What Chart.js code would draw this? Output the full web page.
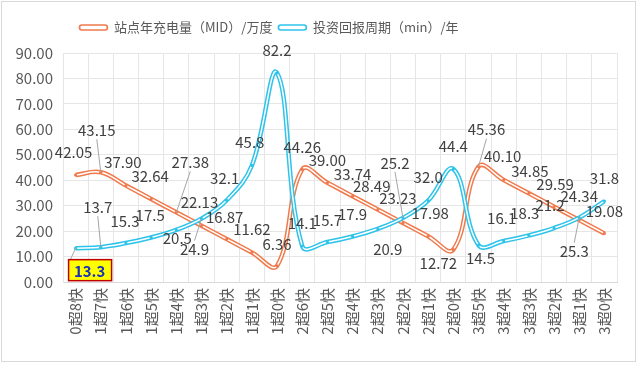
<!DOCTYPE html>
<html>
<head>
<meta charset="utf-8">
<script src="https://cdn.jsdelivr.net/npm/chart.js@4.4.1/dist/chart.umd.min.js"></script>
<style>
  html, body { margin: 0; padding: 0; background: #fff; }
  #wrap { width: 637px; height: 372px; }
</style>
</head>
<body>
<div id="wrap"><canvas id="chart" width="637" height="372"></canvas></div>
<script>
const categories = ['0超8快', '1超7快', '1超6快', '1超5快', '1超4快', '1超3快', '1超2快', '1超1快', '1超0快',
    '2超6快', '2超5快', '2超4快', '2超3快', '2超2快', '2超1快', '2超0快',
    '3超5快', '3超4快', '3超3快', '3超2快', '3超1快', '3超0快'];

const chargeValues = [42.05, 43.15, 37.90, 32.64, 27.38, 22.13, 16.87, 11.62, 6.36,
    44.26, 39.00, 33.74, 28.49, 23.23, 17.98, 12.72,
    45.36, 40.10, 34.85, 29.59, 24.34, 19.08];

const paybackValues = [13.3, 13.7, 15.3, 17.5, 20.5, 24.9, 32.1, 45.8, 82.2,
    14.1, 15.7, 17.9, 20.9, 25.2, 32.0, 44.4,
    14.5, 16.1, 18.3, 21.2, 25.3, 31.8];

const seriesNames = ['站点年充电量（MID）/万度', '投资回报周期（min）/年'];

// label offsets in px relative to the point (hand placed like in the excel original)
const chargeLabelOffsets = [[-2, -23], [-4, -42], [-3, -23], [-1, -23], [14, -50], [-2, -23], [-2, -22], [0, -23], [0, -22],
    [0, -22], [0, -22], [0, -22], [-6, -23], [-5, -25], [2, -23], [-15, 14],
    [8, -37], [-1, -24], [1, -22], [1, -22], [0, -24], [0, -22]];
const paybackLabelOffsets = [[14, 22], [-3, -40], [-1, -22], [-1, -22], [1, 8], [-7, 31], [-2, -22], [-2, -23], [0, -23],
    [0, -23], [0, -22], [0, -22], [10, 20], [-8, -55], [0, -23], [0, -23],
    [2, 13], [-2, -23], [-4, -22], [-4, -23], [-5, 34], [0, -23]];
const chargeLeaders = [1, 4, 16];
const paybackLeaders = [0, 1, 5, 13, 20];

const ORANGE = '#f07a4c';
const BLUE = '#2ec3ea';
const FONT = '"Microsoft YaHei", "Noto Sans CJK SC", "Noto Sans", sans-serif';

const framePlugin = {
    id: 'frame',
    beforeInit(chart) {
        // leave more room under the legend
        const origFit = chart.legend.fit;
        chart.legend.fit = function () {
            origFit.call(this);
            this.height += 9;
        };
    },
    afterLayout(chart) {
        // the excel legend sits a bit left of centre
        chart.legend.left -= 42;
        chart.legend.right -= 42;
    },
    beforeDraw(chart) {
        const ctx = chart.ctx;
        ctx.save();
        ctx.fillStyle = '#fff';
        ctx.fillRect(0, 0, chart.width, chart.height);
        ctx.strokeStyle = '#d9d9d9';
        ctx.lineWidth = 1;
        ctx.strokeRect(1.5, 1.5, 634, 360);
        ctx.restore();
    }
};

const labelPlugin = {
    id: 'pointLabels',
    afterDatasetsDraw(chart) {
        const ctx = chart.ctx;
        ctx.save();
        ctx.font = '15px ' + FONT;
        ctx.textAlign = 'center';
        ctx.textBaseline = 'middle';

        const drawSet = (dsIndex, values, offsets, leaders, decimals) => {
            const meta = chart.getDatasetMeta(dsIndex);
            meta.data.forEach((pt, i) => {
                const lx = pt.x + offsets[i][0];
                const ly = pt.y + offsets[i][1];
                const text = values[i].toFixed(decimals);
                const boxed = (dsIndex === 1 && i === 0);
                if (leaders.includes(i)) {
                    ctx.strokeStyle = '#a6a6a6';
                    ctx.lineWidth = 1;
                    ctx.beginPath();
                    const sy = offsets[i][1] < 0 ? ly + 9 : ly - (boxed ? 11 : 9);
                    const sx = boxed ? lx - 19 : lx;
                    ctx.moveTo(sx, sy);
                    ctx.lineTo(pt.x, pt.y);
                    ctx.stroke();
                }
                if (boxed) {
                    ctx.fillStyle = '#ffff00';
                    ctx.fillRect(lx - 21, ly - 10.5, 43, 21);
                    ctx.strokeStyle = '#c00000';
                    ctx.lineWidth = 1.5;
                    ctx.strokeRect(lx - 21, ly - 10.5, 43, 21);
                    ctx.fillStyle = '#1a2fb8';
                    ctx.font = 'bold 15px ' + FONT;
                    ctx.fillText(text, lx, ly + 1);
                    ctx.font = '15px ' + FONT;
                } else {
                    ctx.fillStyle = '#404040';
                    ctx.fillText(text, lx, ly);
                }
            });
        };

        drawSet(0, chargeValues, chargeLabelOffsets, chargeLeaders, 2);
        drawSet(1, paybackValues, paybackLabelOffsets, paybackLeaders, 1);
        ctx.restore();
    }
};

const baseLine = {
    fill: false,
    tension: 0.4,
    pointHoverRadius: 0
};

new Chart(document.getElementById('chart').getContext('2d'), {
    type: 'line',
    data: {
        labels: categories,
        datasets: [
            // outer coloured strokes
            Object.assign({}, baseLine, {
                label: seriesNames[0], data: chargeValues,
                borderColor: ORANGE, borderWidth: 4.5, pointRadius: 0, order: 3
            }),
            Object.assign({}, baseLine, {
                label: seriesNames[1], data: paybackValues,
                borderColor: BLUE, borderWidth: 4.5, pointRadius: 0, order: 1
            }),
            // white inner strokes (double line look)
            Object.assign({}, baseLine, {
                label: 'inner0', data: chargeValues,
                borderColor: '#ffffff', borderWidth: 1.5,
                pointRadius: 1.6, pointBackgroundColor: ORANGE, pointBorderWidth: 0, order: 2
            }),
            Object.assign({}, baseLine, {
                label: 'inner1', data: paybackValues,
                borderColor: '#ffffff', borderWidth: 1.5,
                pointRadius: 1.6, pointBackgroundColor: BLUE, pointBorderWidth: 0, order: 0
            })
        ]
    },
    options: {
        responsive: false,
        animation: false,
        events: [],
        layout: { padding: { top: 15, left: 5, right: 20, bottom: 10 } },
        plugins: {
            tooltip: { enabled: false },
            legend: {
                display: true,
                position: 'top',
                labels: {
                    color: '#595959',
                    font: { size: 13, family: FONT },
                    boxWidth: 28,
                    boxHeight: 5,
                    padding: 6,
                    generateLabels(chart) {
                        return [0, 1].map(i => ({
                            text: seriesNames[i],
                            fillStyle: '#ffffff',
                            strokeStyle: i === 0 ? ORANGE : BLUE,
                            lineWidth: 1.6,
                            borderRadius: 2.5,
                            fontColor: '#595959',
                            datasetIndex: i,
                            hidden: false
                        }));
                    }
                }
            }
        },
        scales: {
            x: {
                offset: true,
                grid: { offset: true, color: '#e6e6e6', drawTicks: false },
                border: { color: '#d9d9d9' },
                ticks: {
                    color: '#595959',
                    font: { size: 15, family: FONT },
                    maxRotation: 90,
                    minRotation: 90,
                    autoSkip: false,
                    padding: 6
                },
                afterFit(scale) { scale.height = 80; }
            },
            y: {
                min: 0,
                max: 90,
                grid: { color: '#e6e6e6', drawTicks: false },
                border: { color: '#e6e6e6' },
                ticks: {
                    stepSize: 10,
                    color: '#595959',
                    font: { size: 15, family: FONT },
                    padding: 10,
                    callback: v => v.toFixed(2)
                },
                afterFit(scale) { scale.width = 58; }
            }
        }
    },
    plugins: [framePlugin, labelPlugin]
});
</script>
</body>
</html>
